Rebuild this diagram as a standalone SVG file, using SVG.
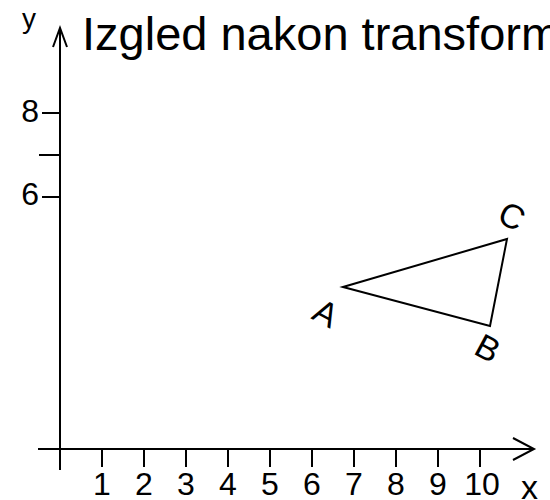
<svg xmlns="http://www.w3.org/2000/svg" width="550" height="500" viewBox="0 0 550 500">
<style>
  .ln{stroke:#000;stroke-width:2;fill:none;stroke-linecap:butt}
  text{font-family:"Liberation Sans",Arial,sans-serif;fill:#000}
  .num{font-size:32px}
  .tick{text-anchor:middle}
  .lab{font-size:34px;text-anchor:middle}
</style>
<rect width="550" height="500" fill="#fff"/>
<g id="title"><text x="82" y="50" style="font-size:47px">Izgled nakon transform</text></g>
<g id="axes">
  <path class="ln" d="M60 470 V28 M53 47 L60 28 L67 47"/>
  <path class="ln" d="M38 449 H534 M513 438 L534 449 L513 460"/>
  <path class="ln" d="M42 113 H60 M39 155 H60 M42 197 H60"/>
  <path class="ln" d="M102 449 V467 M144 449 V467 M186 449 V467 M228 449 V467 M270 449 V467 M312 449 V467 M354 449 V467 M396 449 V467 M438 449 V467 M480 449 V467"/>
</g>
<g id="axis-labels">
  <text x="22" y="28" style="font-size:28px">y</text>
  <text x="521" y="499" style="font-size:34px">x</text>
  <text class="num" x="39" y="122" text-anchor="end">8</text>
  <text class="num" x="39" y="205" text-anchor="end">6</text>
  <text class="num tick" x="102" y="495">1</text>
  <text class="num tick" x="144" y="495">2</text>
  <text class="num tick" x="186" y="495">3</text>
  <text class="num tick" x="228" y="495">4</text>
  <text class="num tick" x="270" y="495">5</text>
  <text class="num tick" x="312" y="495">6</text>
  <text class="num tick" x="354" y="495">7</text>
  <text class="num tick" x="396" y="495">8</text>
  <text class="num tick" x="438" y="495">9</text>
  <text class="num tick" x="482" y="495">10</text>
</g>
<g id="triangle">
  <polygon class="ln" points="343,287 490,326 507,239" stroke-linejoin="miter"/>
</g>
<g id="label-A"><text class="lab" x="326" y="325" transform="rotate(28 326 313)">A</text></g>
<g id="label-B"><text class="lab" x="488" y="360" transform="rotate(28 488 348)">B</text></g>
<g id="label-C"><text class="lab" x="512" y="228" transform="rotate(28 512 216)">C</text></g>
</svg>
